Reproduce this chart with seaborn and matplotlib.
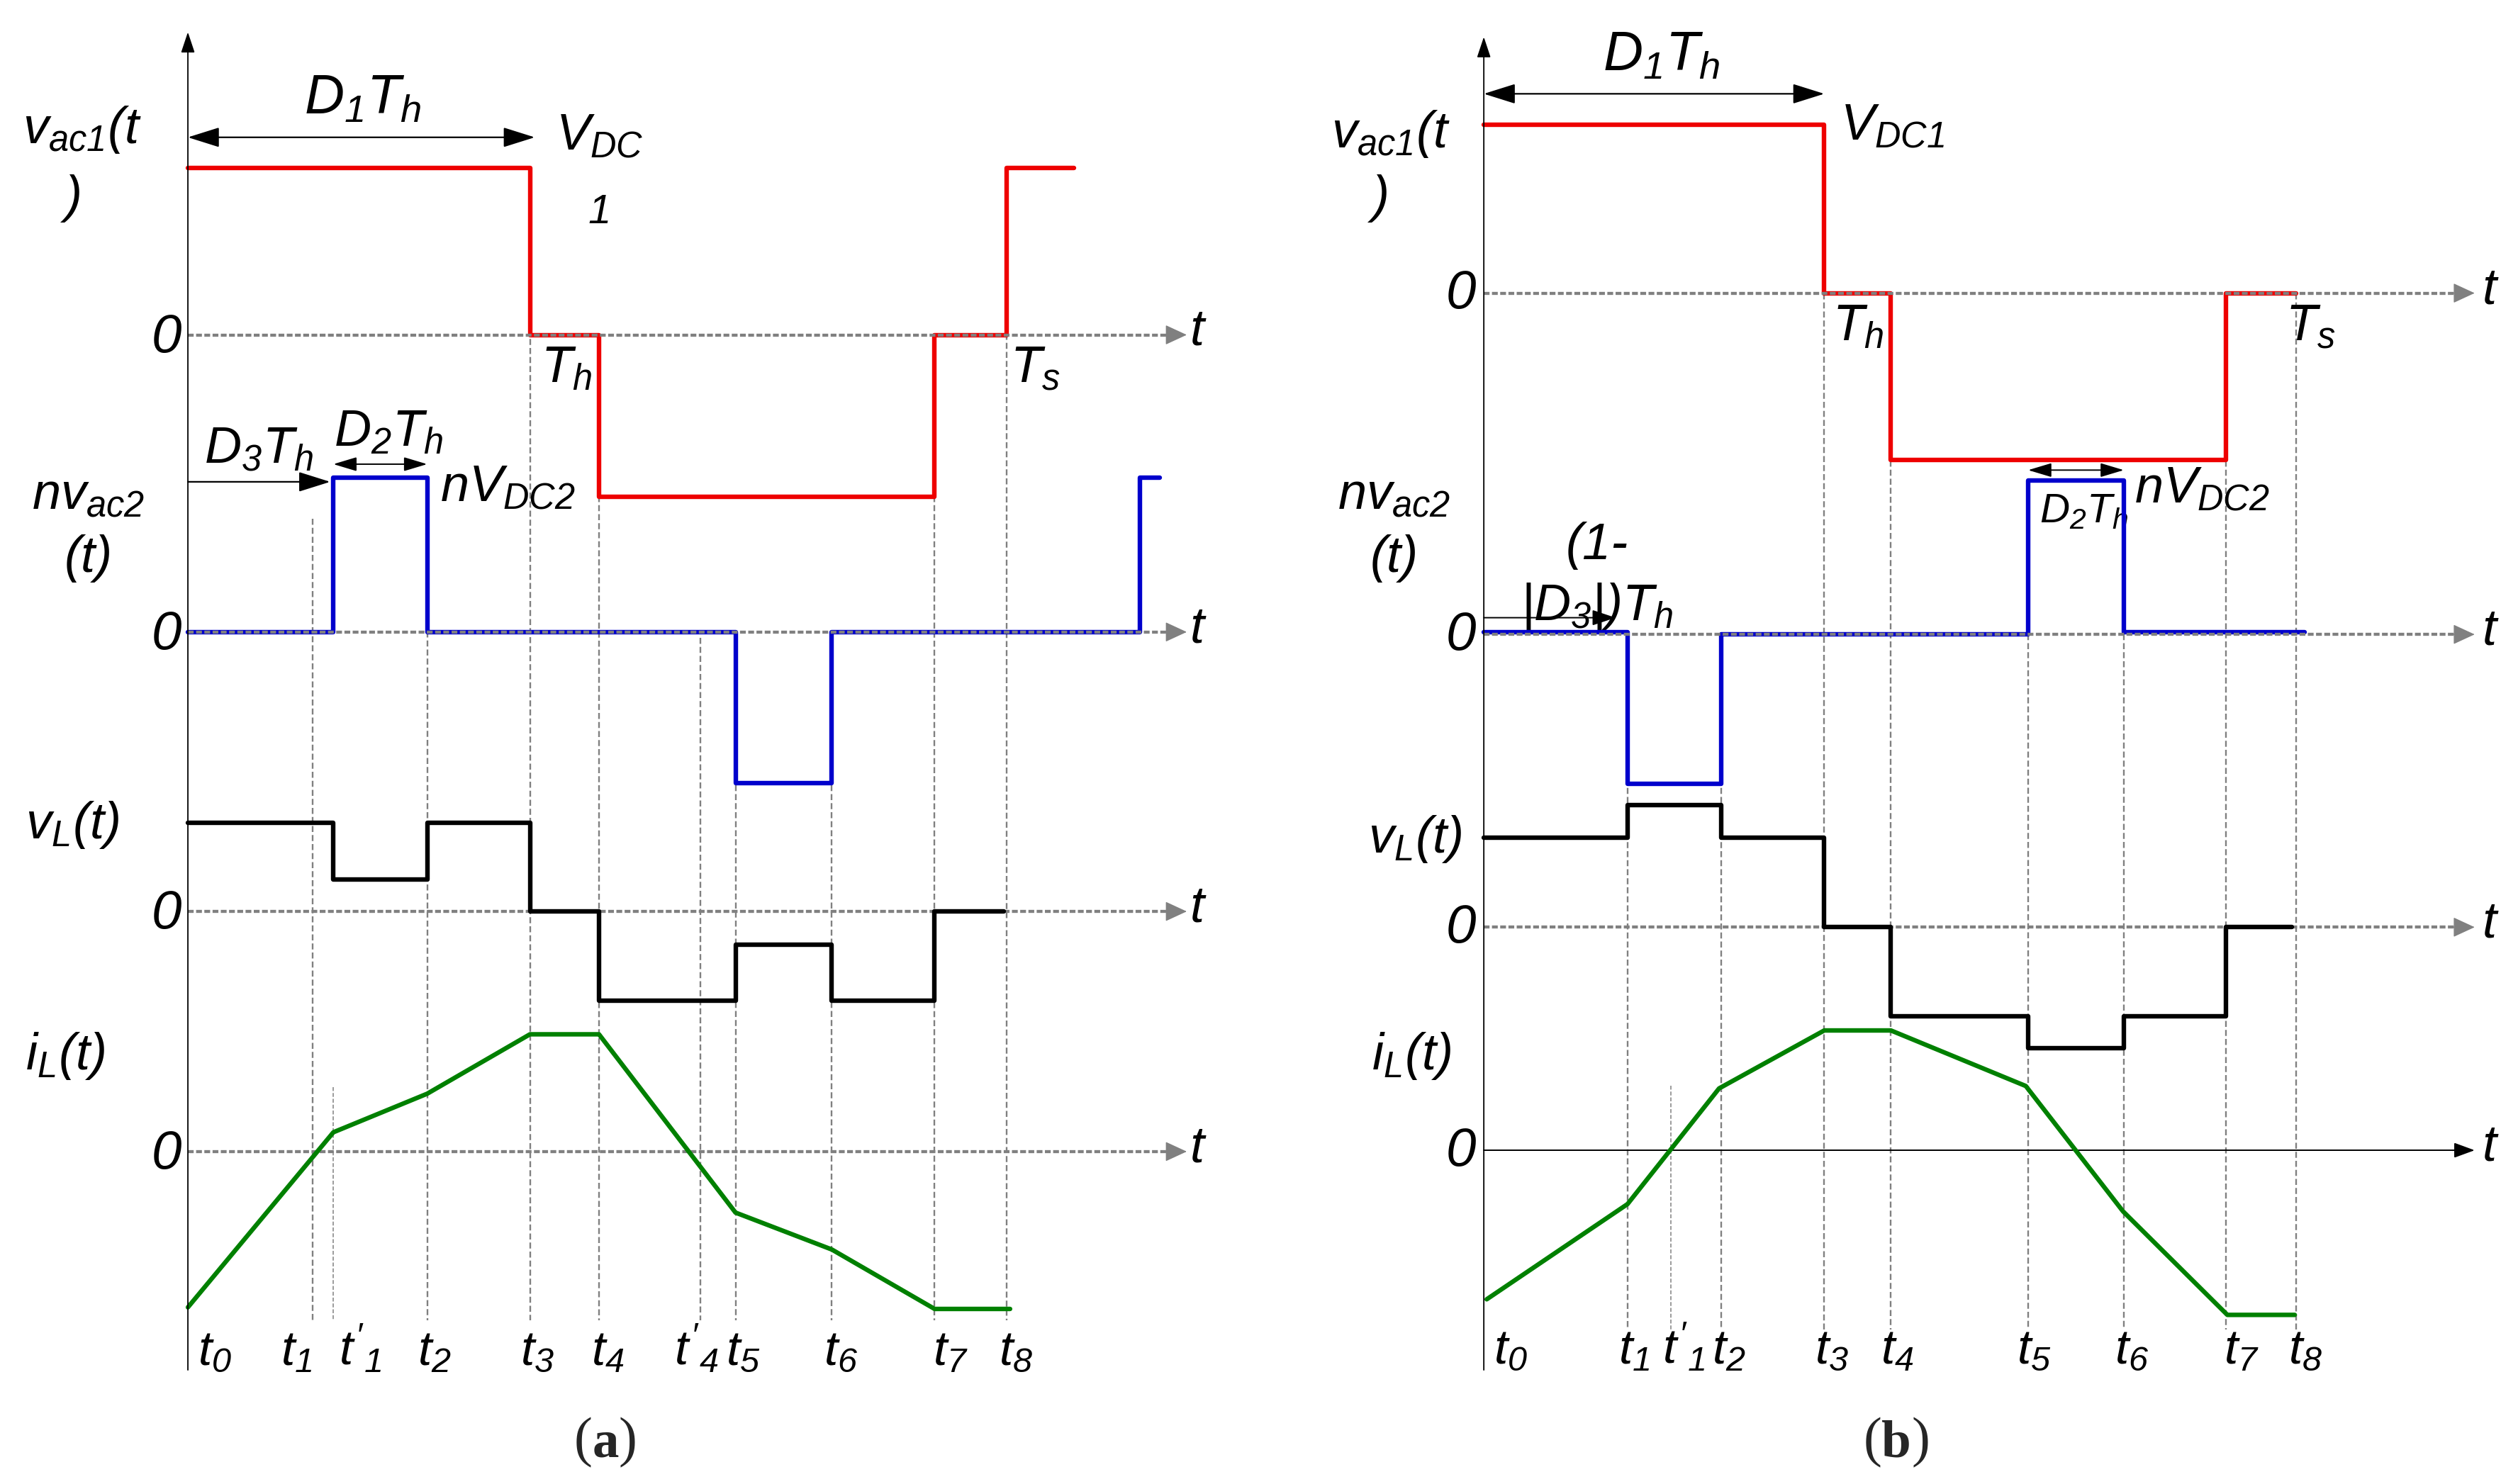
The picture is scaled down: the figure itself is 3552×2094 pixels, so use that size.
import matplotlib
matplotlib.use('Agg')
import matplotlib.pyplot as plt
import seaborn as sns
from matplotlib import font_manager

# ---------------- waveform data ----------------
# time instants after t0 (arbitrary time units), levels relative to each trace's zero line

# panel (a)
ta_labels = [r'$t_0$', r'$t_1$', r"$t'_1$", r'$t_2$', r'$t_3$', r'$t_4$', r"$t'_4$",
             r'$t_5$', r'$t_6$', r'$t_7$', r'$t_8$']
ta = [0, 77.5, 90.6, 149, 213, 256, 319, 341, 401, 465, 510]

vac1_a_t = [0, 213, 256, 465, 510, 552]
vac1_a_v = [104, 0, -101, 0, 104, 104]
nvac2_a_t = [0, 90.6, 149, 341, 401, 593, 605]
nvac2_a_v = [0, 96, 0, -94, 0, 96, 96]
vL_a_t = [0, 90.6, 149, 213, 256, 341, 401, 465, 508]
vL_a_v = [55, 20, 55, 0, -55.5, -20.5, -55.5, 0, 0]
iL_a_t = [0, 90.6, 149, 213, 256, 341, 401, 465, 512]
iL_a_v = [-97, 12, 36, 73, 73, -38, -61, -98, -98]

# panel (b)
tb_labels = [r'$t_0$', r'$t_1$', r"$t'_1$", r'$t_2$', r'$t_3$', r'$t_4$',
             r'$t_5$', r'$t_6$', r'$t_7$', r'$t_8$']
tb = [0, 89.5, 116.4, 148, 212, 253.5, 339, 398.5, 462, 506]

vac1_b_t = [0, 212, 253.5, 462, 506]
vac1_b_v = [105, 0, -104, 0, 0]
nvac2_b_t = [0, 89.5, 148, 339, 398.5, 511]
nvac2_b_v = [1.5, -93, 0, 96, 1.5, 1.5]
vL_b_t = [0, 89.5, 148, 212, 253.5, 339, 398.5, 462, 503]
vL_b_v = [55.7, 76, 55.7, 0, -55.4, -75.2, -55.4, 0, 0]
iL_b_t = [1.8, 89.5, 146.5, 212, 253.5, 337.5, 398, 463, 505]
iL_b_v = [-92.8, -33.5, 38.5, 74.6, 74.6, 40, -38, -102.5, -102.5]

# ---------------- layout (canvas units, y downward) ----------------
W, H = 1568, 924
XA, XB = 117, 924
base_a = dict(vac1=208.5, nvac2=393.5, vL=567.5, iL=717)
base_b = dict(vac1=182.5, nvac2=395, vL=577.3, iL=716.2)
tip_a, tip_b = 739, 1541
# top end of each dashed guide (same order as ta / tb)
guide_top_a = [None, 323, 677, 393, 104, 309, 397, 393, 393, 309, 208]
guide_top_b = [None, 395, 676, 395, 182.5, 287, 299, 299, 287, 182.5]
guide_bot_a, guide_bot_b = 822, 828
tlab_x_a = [123, 175, 211, 260, 324, 368, 420, 452, 513, 581, 622]
tlab_x_b = [930, 1008, 1035, 1066, 1130, 1171, 1256, 1317, 1385, 1425]

RED, BLUE, GREEN, GRAY = '#EE0000', '#0000CC', '#008000', '#808080'
LW = 4.6
FS = 52

sns.set_theme(style='white')
avail = {f.name for f in font_manager.fontManager.ttflist}
FAM = next(f for f in ['Liberation Sans Narrow', 'Liberation Sans', 'DejaVu Sans'] if f in avail)
plt.rcParams['font.family'] = [FAM, 'DejaVu Sans']
plt.rcParams['mathtext.fontset'] = 'custom'
plt.rcParams['mathtext.it'] = FAM + ':italic'
plt.rcParams['mathtext.rm'] = FAM + ':italic'
plt.rcParams['mathtext.bf'] = FAM + ':italic:bold'

fig = plt.figure(figsize=(35.52, 20.94), dpi=100)
ax = fig.add_axes([0, 0, 1, 1])


def trace(x0, base, t, v, color, steps=True, z=4):
    xs = [x0 + ti for ti in t]
    ys = [base - vi for vi in v]
    sns.lineplot(x=xs, y=ys, ax=ax, color=color, lw=LW, sort=False, estimator=None,
                 drawstyle='steps-post' if steps else 'default', zorder=z)


def arrow(x1, y1, x2, y2, style='-|>', color='black', lw=1.6, hl=0.7, hw=0.22, ms=40):
    ax.annotate('', xy=(x2, y2), xytext=(x1, y1),
                arrowprops=dict(arrowstyle=f'{style},head_length={hl},head_width={hw}',
                                color=color, lw=lw, mutation_scale=ms,
                                shrinkA=0, shrinkB=0), zorder=6)


def zero_axis(x0, y, tip, solid=False, z=2):
    if solid:
        ax.plot([x0, tip - 10], [y, y], color='black', lw=1.4, zorder=z)
        arrow(tip - 14, y, tip, y, lw=1.4, hl=0.6, hw=0.22, ms=30)
    else:
        ax.plot([x0, tip - 10], [y, y], color=GRAY, lw=3.1, ls=(0, (1.9, 0.8)), zorder=z)
        arrow(tip - 14, y, tip, y, color=GRAY, lw=1, hl=0.65, hw=0.3, ms=30)


def guide(x, top, bot, fine=False):
    ax.plot([x, x], [top, bot], color=GRAY, lw=1.1 if fine else 1.7,
            ls=(0, (3.6, 1.8)), zorder=1)


def lab(x, y, s, size=FS, ha='left', va='baseline', **kw):
    ax.text(x, y, s, fontsize=size, ha=ha, va=va, style='italic', color='black', **kw)


def panel_tag(x, y, letter):
    mid = ax.text(x, y, letter, fontsize=54, ha='center', va='bottom',
                  family='Liberation Serif', fontweight='bold')
    ax.annotate('(', xy=(0, 0), xycoords=mid, fontsize=56, ha='right', va='bottom',
                family='Liberation Serif')
    ax.annotate(')', xy=(1, 0), xycoords=mid, fontsize=56, ha='left', va='bottom',
                family='Liberation Serif')


# ---------------- panel (a) ----------------
for x, top in zip(ta, guide_top_a):
    if top is not None:
        guide(XA + x, top, guide_bot_a, fine=(top > 600))
for k, b in base_a.items():
    zero_axis(XA, b, tip_a, z=5 if k in ('vac1', 'nvac2') else 2)
arrow(XA, 853, XA, 20, lw=1.3, hl=0.6, hw=0.2, ms=30)

trace(XA, base_a['vac1'], vac1_a_t, vac1_a_v, RED)
trace(XA, base_a['nvac2'], nvac2_a_t, nvac2_a_v, BLUE)
trace(XA, base_a['vL'], vL_a_t, vL_a_v, 'black')
trace(XA, base_a['iL'], iL_a_t, iL_a_v, GREEN, steps=False)

arrow(XA, 85.5, XA + ta[4] + 3, 85.5, style='<|-|>', lw=1.6)
arrow(XA, 300, XA + ta[2] - 2, 300, lw=1.6)
arrow(XA + ta[2], 289, XA + ta[3], 289, style='<|-|>', lw=1.4, hl=0.6, hw=0.18, ms=34)

lab(14, 89, r'$v_{ac1}(t$')
lab(40, 132, ')')
lab(226, 71, r'$D_1T_h$', ha='center', size=56)
lab(346, 93, r'$V_{DC}$')
lab(366, 139, '1', size=42)
lab(337, 238, r'$T_h$')
lab(629, 238, r'$T_s$')
lab(127, 288, r'$D_3T_h$')
lab(208, 278, r'$D_2T_h$')
lab(274, 312, r'$nV_{DC2}$')
lab(20, 317, r'$nv_{ac2}$')
lab(40, 356, '(t)')
lab(16, 522, r'$v_L(t)$')
lab(16, 666, r'$i_L(t)$')
for b in base_a.values():
    lab(113, b + 2, '0', ha='right', va='center', size=55)
    lab(741, b - 2, 't', va='center')
for x, s in zip(tlab_x_a, ta_labels):
    lab(x, 850, s, size=50)
panel_tag(377, 914, 'a')

# ---------------- panel (b) ----------------
for x, top in zip(tb, guide_top_b):
    if top is not None:
        guide(XB + x, top, guide_bot_b, fine=(top > 600))
for k, b in base_b.items():
    zero_axis(XB, b, tip_b, solid=(k == 'iL'), z=5 if k in ('vac1', 'nvac2') else 2)
arrow(XB, 853, XB, 23, lw=1.3, hl=0.6, hw=0.2, ms=30)

trace(XB, base_b['vac1'], vac1_b_t, vac1_b_v, RED)
trace(XB, base_b['nvac2'], nvac2_b_t, nvac2_b_v, BLUE)
trace(XB, base_b['vL'], vL_b_t, vL_b_v, 'black')
trace(XB, base_b['iL'], iL_b_t, iL_b_v, GREEN, steps=False)

arrow(XB, 58.4, XB + tb[4], 58.4, style='<|-|>', lw=1.6)
arrow(XB + tb[6], 292.7, XB + tb[7], 292.7, style='<|-|>', lw=1.4, hl=0.6, hw=0.18, ms=34)
arrow(XB, 384.6, 1006, 384.6, lw=1.4, hl=0.6, hw=0.2, ms=34)

lab(998, 44, r'$D_1T_h$', size=56)
lab(829, 92, r'$v_{ac1}(t$')
lab(854, 132, ')')
lab(1146, 87, r'$V_{DC1}$')
lab(1141, 212, r'$T_h$')
lab(1423, 212, r'$T_s$')
lab(833, 317, r'$nv_{ac2}$')
lab(853, 356, '(t)')
lab(975, 348, '(1-')
lab(947, 386, r'$|D_3|)T_h$')
lab(1270, 325, r'$D_2T_h$', size=42)
lab(1329, 313, r'$nV_{DC2}$')
lab(852, 531, r'$v_L(t)$')
lab(854, 666, r'$i_L(t)$')
for b in base_b.values():
    lab(919, b + 1, '0', ha='right', va='center', size=55)
    lab(1546, b - 2, 't', va='center')
for x, s in zip(tlab_x_b, tb_labels):
    lab(x, 849, s, size=50)
panel_tag(1181, 914, 'b')

ax.set_xlim(0, W)
ax.set_ylim(H, 0)
ax.axis('off')
fig.savefig('out.png', dpi=100)
